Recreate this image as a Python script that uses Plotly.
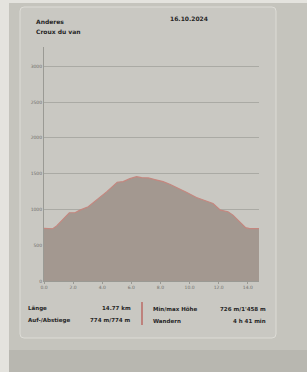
import plotly.graph_objects as go

# ---- data ----
distance_km = [0.0, 0.6, 0.87, 1.33, 1.74, 2.13, 2.47, 3.04, 3.61, 4.30, 5.03, 5.44, 5.90, 6.36,
               6.70, 7.16, 7.61, 8.18, 8.64, 9.21, 9.78, 10.47, 11.04, 11.61, 12.12, 12.64,
               12.98, 13.44, 13.85, 14.13, 14.77]
elevation_m = [736, 730, 770, 875, 954, 954, 990, 1037, 1130, 1245, 1380, 1389, 1430, 1458,
               1444, 1440, 1417, 1389, 1352, 1301, 1241, 1167, 1120, 1083, 991, 968,
               921, 829, 745, 731, 731]
x_ticks = [0, 2, 4, 6, 8, 10, 12, 14]
x_tick_labels = ["0.0", "2.0", "4.0", "6.0", "8.0", "10.0", "12.0", "14.0"]
y_ticks = [0, 500, 1000, 1500, 2000, 2500, 3000]
y_tick_labels = ["0", "500", "1000", "1500", "2000", "2500", "3000"]
title_lines = ["Anderes", "Croux du van"]
date_text = "16.10.2024"
stats_left = [("Länge", "14.77 km"), ("Auf-/Abstiege", "774 m/774 m")]
stats_right = [("Min/max Höhe", "726 m/1'458 m"), ("Wandern", "4 h 41 min")]

# ---- layout geometry (pixels) ----
W, H = 307, 372
L, R, T, B = 44, 48, 47, 91
pw, ph = W - L - R, H - T - B

def px(x):
    return (x - L) / pw

def py(y):
    return 1 - (y - T) / ph

fig = go.Figure()
fig.add_trace(go.Scatter(
    x=distance_km, y=elevation_m, mode="lines",
    line=dict(color="#c4877f", width=1.2),
    fill="tozeroy", fillcolor="#a39890", hoverinfo="skip", showlegend=False))

font_b = "DejaVu Sans"
txt = "#262626"
ann = []
ann.append(dict(x=px(34), y=py(22), text="<b>" + title_lines[0] + "</b>", xanchor="left", yanchor="middle",
                font=dict(size=6, color=txt, family=font_b)))
ann.append(dict(x=px(34), y=py(31), text="<b>" + title_lines[1] + "</b>", xanchor="left", yanchor="middle",
                font=dict(size=6, color=txt, family=font_b)))
ann.append(dict(x=px(168), y=py(19), text="<b>" + date_text + "</b>", xanchor="left", yanchor="middle",
                font=dict(size=6, color=txt, family=font_b)))
for i, (lab, val) in enumerate(stats_left):
    yy = py(308 + i * 12)
    ann.append(dict(x=px(26), y=yy, text="<b>" + lab + "</b>", xanchor="left", yanchor="middle",
                    font=dict(size=5.5, color=txt, family=font_b)))
    ann.append(dict(x=px(133), y=yy, text="<b>" + val + "</b>", xanchor="right", yanchor="middle",
                    font=dict(size=5.5, color=txt, family=font_b)))
for i, (lab, val) in enumerate(stats_right):
    yy = py(309 + i * 12)
    ann.append(dict(x=px(151), y=yy, text="<b>" + lab + "</b>", xanchor="left", yanchor="middle",
                    font=dict(size=5.5, color=txt, family=font_b)))
    ann.append(dict(x=px(268), y=yy, text="<b>" + val + "</b>", xanchor="right", yanchor="middle",
                    font=dict(size=5.5, color=txt, family=font_b)))
for a in ann:
    a.update(xref="paper", yref="paper", showarrow=False)

shapes = [
    # lighter strip at left/top edge of photo
    dict(type="rect", xref="paper", yref="paper", x0=px(0), x1=px(9), y0=py(372), y1=py(0),
         fillcolor="#e4e3de", line=dict(width=0), layer="below"),
    dict(type="rect", xref="paper", yref="paper", x0=px(0), x1=px(307), y0=py(3), y1=py(0),
         fillcolor="#e4e3de", line=dict(width=0), layer="below"),
    # darker shade at bottom of photo
    dict(type="rect", xref="paper", yref="paper", x0=px(9), x1=px(307), y0=py(372), y1=py(350),
         fillcolor="#b8b7b0", line=dict(width=0), layer="below"),
    # card outline
    dict(type="path", xref="paper", yref="paper",
         path=(f"M {px(24)},{py(7)} L {px(272)},{py(7)} Q {px(276)},{py(7)} {px(276)},{py(11)} "
               f"L {px(276)},{py(334)} Q {px(276)},{py(338)} {px(272)},{py(338)} "
               f"L {px(24)},{py(338)} Q {px(20)},{py(338)} {px(20)},{py(334)} "
               f"L {px(20)},{py(11)} Q {px(20)},{py(7)} {px(24)},{py(7)} Z"),
         fillcolor="#c9c8c2", line=dict(color="#dddcd6", width=1), layer="below"),
    # red separator
    dict(type="line", xref="paper", yref="paper", x0=px(142), x1=px(142), y0=py(302), y1=py(325),
         line=dict(color="#b8524e", width=1.2)),
]

fig.update_layout(
    width=W, height=H, margin=dict(l=L, r=R, t=T, b=B),
    paper_bgcolor="#c5c4bd", plot_bgcolor="rgba(0,0,0,0)",
    annotations=ann, shapes=shapes,
    xaxis=dict(range=[0, 14.77], tickvals=x_ticks, ticktext=x_tick_labels,
               showgrid=False, zeroline=False, showline=True, linecolor="#9a9a94", linewidth=1,
               ticks="outside", ticklen=2, tickcolor="#9a9a94",
               tickfont=dict(size=4.5, color="#6e6e6a", family="DejaVu Sans")),
    yaxis=dict(range=[0, 3270], tickvals=y_ticks, ticktext=y_tick_labels,
               showgrid=True, gridcolor="#aaaaa4", gridwidth=0.6, zeroline=False,
               showline=True, linecolor="#9a9a94", linewidth=1,
               tickfont=dict(size=4.5, color="#6e6e6a", family="DejaVu Sans")),
)

fig.write_html("out.html", config={"displayModeBar": False},
               post_script="document.body.style.margin='0';document.body.style.padding='0';")
